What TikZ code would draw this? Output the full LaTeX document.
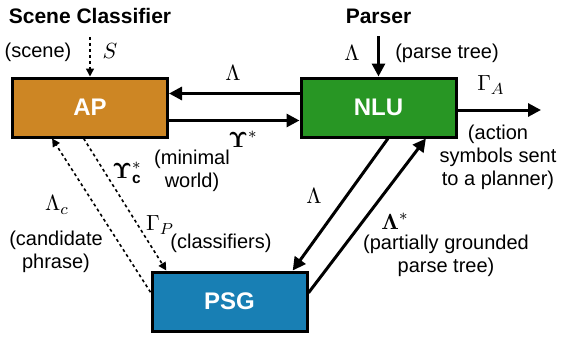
\documentclass[tikz,border=0pt]{standalone}
\usepackage{amsmath}
\usepackage{amssymb}
\usepackage{fontspec}
\setmainfont{Liberation Sans}
\usetikzlibrary{positioning, arrows.meta, calc}

\definecolor{apOrange}{RGB}{205,134,36}
\definecolor{nluGreen}{RGB}{40,150,36}
\definecolor{psgBlue}{RGB}{24,127,180}

\begin{document}
\begin{tikzpicture}[
    x=0.5pt, y=-0.5pt,
    module/.style={rectangle, draw=black, line width=1.5pt, minimum height=29.5pt, minimum width=77.5pt, text=white, font=\fontsize{12}{14}\selectfont\bfseries},
    source/.style={font=\fontsize{10.5}{12}\selectfont\bfseries},
    note/.style={align=center, font=\fontsize{10}{11.5}\selectfont, inner sep=0pt},
    symb/.style={inner sep=0pt, font=\fontsize{11}{12}\selectfont},
    arrow/.style={-{Triangle[length=6.5pt, width=6.5pt]}, line width=1.5pt},
    dasharrow/.style={-{Triangle[length=4pt, width=4pt]}, dash pattern=on 1.5pt off 1.5pt, line width=0.8pt}
]
\useasboundingbox (0,0) rectangle (562,337);

% Nodes
\node (AP) [module, fill=apOrange] at (90,107.5) {AP};
\node (NLU) [module, fill=nluGreen] at (378.5,107.5) {NLU};
\node (PSG) [module, fill=psgBlue] at (229.5,301.5) {PSG};

\node (SceneCls) [source] at (90,16) {Scene Classifier};
\node (Parser) [source] at (378.5,16) {Parser};
\coordinate (Planner) at (541,110);

% Labels
\node (sceneTxt) [note] at (38,52) {(scene)};
\node (sceneSym) [symb] at (110,51) {$S$};
\node (parseSym) [symb] at (352,53) {$\Lambda$};
\node (parseTxt) [note] at (447,53) {(parse tree)};
\node (lamTop) [symb] at (233,73) {$\Lambda$};
\node (upsTop) [symb] at (243,139) {$\boldsymbol{\Upsilon}^{*}$};
\node (minWorld) [note] at (192,171) {(minimal\\world)};
\node (gamA) [symb] at (491,85) {$\Gamma_{A}$};
\node (actionTxt) [note] at (498,157) {(action\\symbols sent\\to a planner)};
\node (lamMid) [symb] at (314,196) {$\Lambda$};
\node (lamStar) [symb] at (395,221) {$\boldsymbol{\Lambda}^{*}$};
\node (partialTxt) [note] at (446,256) {(partially grounded\\parse tree)};
\node (upsC) [symb] at (127,173) {$\boldsymbol{\Upsilon}_{\mathbf{c}}^{*}$};
\node (gamP) [symb] at (160,225) {$\Gamma_{P}$};
\node (clsTxt) [note] at (221,243) {(classifiers)};
\node (lamC) [symb] at (57,205) {$\Lambda_{c}$};
\node (candTxt) [note] at (56,252) {(candidate\\phrase)};

% Arrows
\draw [dasharrow, shorten <=3pt] (SceneCls) -- (AP);
\draw [arrow, shorten <=3pt] (Parser) -- (NLU);
\draw [arrow] ([yshift=7pt]NLU.west) -- ([yshift=7pt]AP.east);
\draw [arrow] ([yshift=-6.5pt]AP.east) -- ([yshift=-6.5pt]NLU.west);
\draw [arrow] (NLU.east |- Planner) -- (Planner);
\draw [arrow] ($(NLU.south west)!0.56!(NLU.south east)$) -- ($(PSG.north west)!0.9!(PSG.north east)$);
\draw [arrow] ($(PSG.north east)!0.36!(PSG.south east)$) -- ($(NLU.south west)!0.8!(NLU.south east)$);
\draw [dasharrow] ($(AP.south west)!0.46!(AP.south east)$) -- ($(PSG.north west)!0.1!(PSG.north east)$);
\draw [dasharrow] ($(PSG.north west)!0.35!(PSG.south west)$) -- ($(AP.south west)!0.26!(AP.south east)$);

\end{tikzpicture}
\end{document}
